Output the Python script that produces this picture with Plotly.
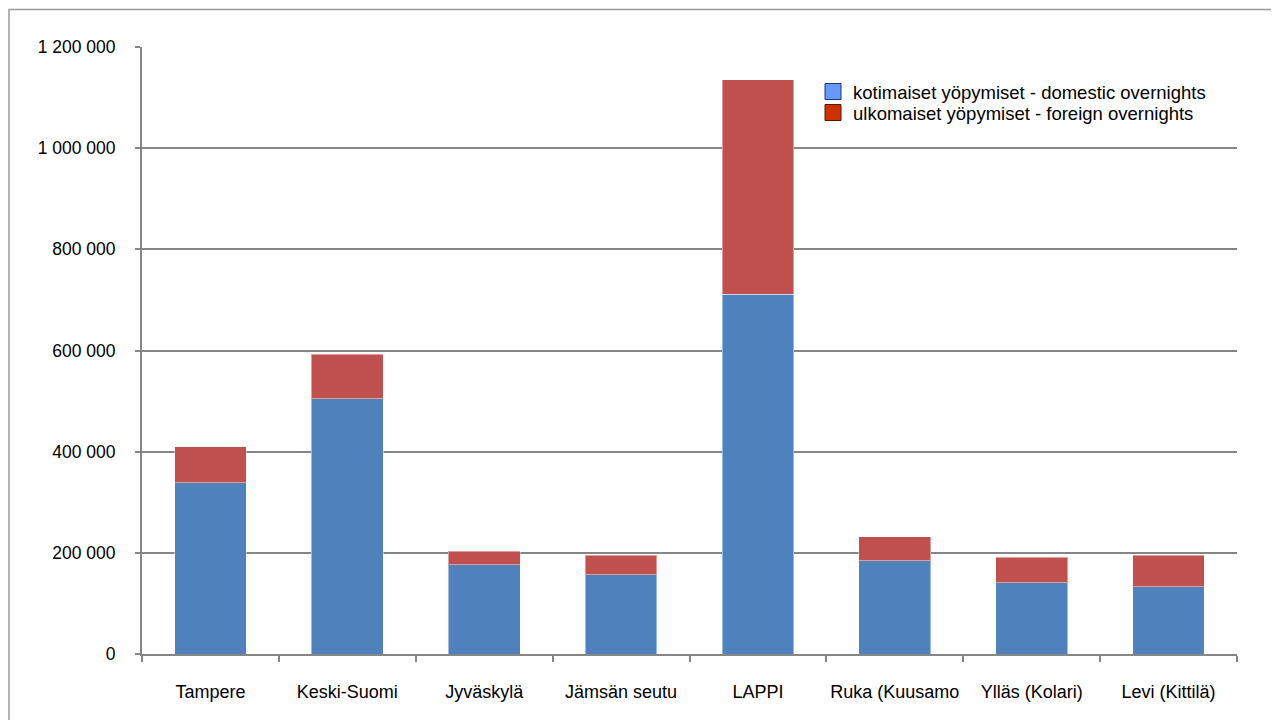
import plotly.graph_objects as go

categories = ["Tampere", "Keski-Suomi", "Jyväskylä", "Jämsän seutu", "LAPPI",
              "Ruka (Kuusamo", "Ylläs (Kolari)", "Levi (Kittilä)"]
domestic = [339000, 505000, 176500, 157000, 711000, 184500, 141000, 133000]
foreign = [71000, 87500, 27000, 38500, 424500, 47500, 50500, 62500]

y_tickvals = [0, 200000, 400000, 600000, 800000, 1000000, 1200000]
y_ticktext = ["0", "200 000", "400 000", "600 000", "800 000", "1 000 000", "1 200 000"]

name_dom = "kotimaiset yöpymiset - domestic overnights"
name_for = "ulkomaiset yöpymiset - foreign overnights"

FONT = "Liberation Sans, Arial, sans-serif"
GRID = "#868686"

# page has an 8px body margin; plot area wanted at screen x 142..1237, y 47..654
L, T = 134, 39
PW, PH = 1095, 607

fig = go.Figure()
fig.add_trace(go.Bar(x=categories, y=domestic, name=name_dom, showlegend=False,
                     marker=dict(color="#4f81bd", line=dict(color="rgba(255,255,255,0.45)", width=1))))
fig.add_trace(go.Bar(x=categories, y=foreign, name=name_for, showlegend=False,
                     marker=dict(color="#c0504d", line=dict(color="rgba(255,255,255,0.45)", width=1))))
# legend entries
fig.add_trace(go.Scatter(x=[None], y=[None], mode="markers", name=name_dom, legend="legend",
                         marker=dict(symbol="square", size=16, color="#6699ff",
                                     line=dict(color="#1f3864", width=1))))
fig.add_trace(go.Scatter(x=[None], y=[None], mode="markers", name=name_for, legend="legend2",
                         marker=dict(symbol="square", size=16, color="#cc3300",
                                     line=dict(color="#5a1500", width=1))))

leg_common = dict(xanchor="left", yanchor="middle", bgcolor="rgba(0,0,0,0)",
                  font=dict(size=18.5), borderwidth=0)
y_leg1 = (654 - 92) / PH
y_leg2 = (654 - 113) / PH
x_leg = (813 - 142) / PW

fig.update_layout(
    width=1279, height=720,
    barmode="stack", bargap=0.475,
    paper_bgcolor="white", plot_bgcolor="white",
    margin=dict(l=L, r=1279 - L - PW, t=T, b=720 - T - PH, autoexpand=False),
    font=dict(family=FONT, size=18, color="#000000"),
    legend=dict(x=x_leg, y=y_leg1, **leg_common),
    legend2=dict(x=x_leg, y=y_leg2, **leg_common),
    xaxis=dict(type="category", showgrid=False, showline=True, linecolor=GRID, linewidth=2,
               ticks="outside", tickson="boundaries", ticklen=6, tickcolor=GRID, tickwidth=1.8,
               ticklabelstandoff=20, tickangle=0, tickfont=dict(size=18)),
    yaxis=dict(range=[0, 1200000], tickvals=y_tickvals, ticktext=y_ticktext,
               showgrid=True, gridcolor=GRID, gridwidth=1.6,
               showline=True, linecolor=GRID, linewidth=2,
               ticks="outside", ticklen=5, tickcolor=GRID, tickwidth=1.8,
               ticklabelstandoff=16, tickfont=dict(size=17.5), zeroline=False),
    shapes=[dict(type="rect", xref="paper", yref="paper",
                 x0=(1 - L) / PW, x1=1.2, y0=-0.3, y1=(T + PH - 1.5) / PH,
                 line=dict(color="#9a9a9a", width=1.5), fillcolor="rgba(0,0,0,0)", layer="below")],
)

fig.write_html("out.html")
